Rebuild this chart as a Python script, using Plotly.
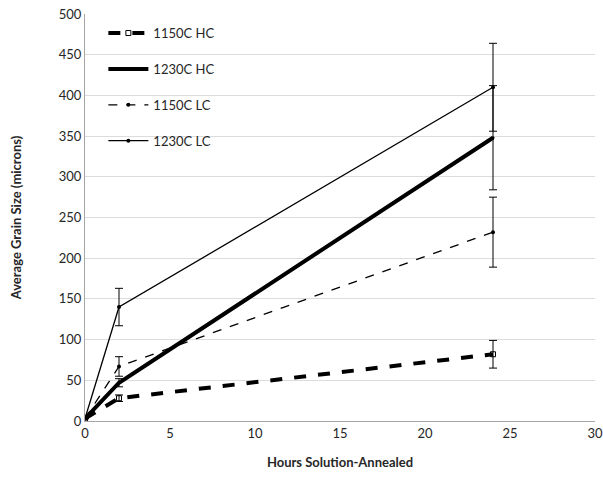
import plotly.graph_objects as go

hours = [0, 2, 24]
hc1150 = [3, 28, 82]
hc1150_err = [0, 4, 17]
hc1230 = [3, 47, 348]
hc1230_err = [0, 5, 64]
lc1150 = [3, 67, 232]
lc1150_err = [0, 12, 43]
lc1230 = [3, 140, 410]
lc1230_err = [0, 23, 54]

series = [
    ("1150C HC", hc1150, hc1150_err, dict(color="black", width=4, dash="dash"), dict(symbol="square-open", size=5, color="black")),
    ("1230C HC", hc1230, hc1230_err, dict(color="black", width=4), dict(symbol="circle", size=3, color="black")),
    ("1150C LC", lc1150, lc1150_err, dict(color="black", width=1.3, dash="dash"), dict(symbol="circle", size=4, color="black")),
    ("1230C LC", lc1230, lc1230_err, dict(color="black", width=1.3), dict(symbol="circle", size=4, color="black")),
]

fig = go.Figure()
for i, (name, ys, err, line, marker) in enumerate(series):
    fig.add_trace(go.Scatter(
        x=hours, y=ys, name=name, mode="lines+markers",
        line=line, marker=marker, legendgroup=str(i),
        error_y=dict(type="data", array=err, visible=True, color="black", thickness=1, width=4),
    ))

font = "Lato, 'Open Sans', sans-serif"
fig.update_layout(
    width=603, height=483,
    margin=dict(l=85, r=8, t=14, b=62, autoexpand=False),
    paper_bgcolor="white", plot_bgcolor="white",
    font=dict(family=font, size=13, color="#262626"),
    showlegend=True,
    legend=dict(x=0.036, y=0.99, xanchor="left", yanchor="top",
                bgcolor="rgba(0,0,0,0)", font=dict(size=13, color="#262626"),
                traceorder="grouped", tracegroupgap=16, itemwidth=40),
    xaxis=dict(range=[0, 30], tickvals=[0, 5, 10, 15, 20, 25, 30], automargin=False,
               showgrid=False, zeroline=False, showline=True, linecolor="#a6a6a6",
               ticks="", tickfont=dict(size=13), ticklabeloverflow="allow",
               title=dict(text="<b>Hours Solution-Annealed</b>", font=dict(size=13), standoff=18)),
    yaxis=dict(range=[0, 500], tickvals=list(range(0, 501, 50)), automargin=False,
               showgrid=True, gridcolor="#dcdcdc", gridwidth=1, zeroline=False,
               showline=True, linecolor="#a6a6a6", ticks="", tickfont=dict(size=13),
               ticklabeloverflow="allow",
               title=dict(text="<b>Average Grain Size (microns)</b>", font=dict(size=13), standoff=34)),
)

fig.write_html("out.html", config={"displayModeBar": False},
               post_script="document.body.style.margin='0';document.body.style.overflow='hidden';")
